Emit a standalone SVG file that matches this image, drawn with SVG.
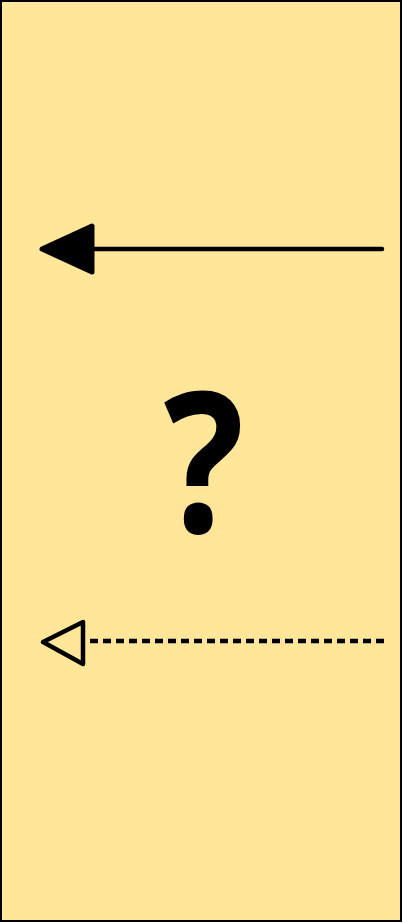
<svg xmlns="http://www.w3.org/2000/svg" width="403" height="923" viewBox="0 0 403 923">
<style>
.box{fill:#FFE699;stroke:#000;stroke-width:2}
.ln{stroke:#000;stroke-width:4.5;fill:none;stroke-linecap:round}
.dash{stroke:#000;stroke-width:4.5;fill:none;stroke-dasharray:8 5}
.q{font-family:"Open Sans","Noto Sans",sans-serif;font-weight:bold;font-size:196px;fill:#000;text-anchor:middle}
</style>
<g id="lifeline">
<rect class="box" x="1" y="1" width="400" height="920"/>
<text class="q" transform="translate(204,532) scale(0.86,1)" x="0" y="0">?</text>
</g>
<g id="connectors">
<line class="ln" x1="382" y1="249" x2="92" y2="249"/>
<polygon points="42,249 92,226 92,272" fill="#000" stroke="#000" stroke-width="5" stroke-linejoin="round"/>
<line class="dash" x1="384" y1="641" x2="86" y2="641"/>
<polygon points="43,642 83,622 83,664" fill="none" stroke="#000" stroke-width="4.5" stroke-linejoin="round"/>
</g>
</svg>
